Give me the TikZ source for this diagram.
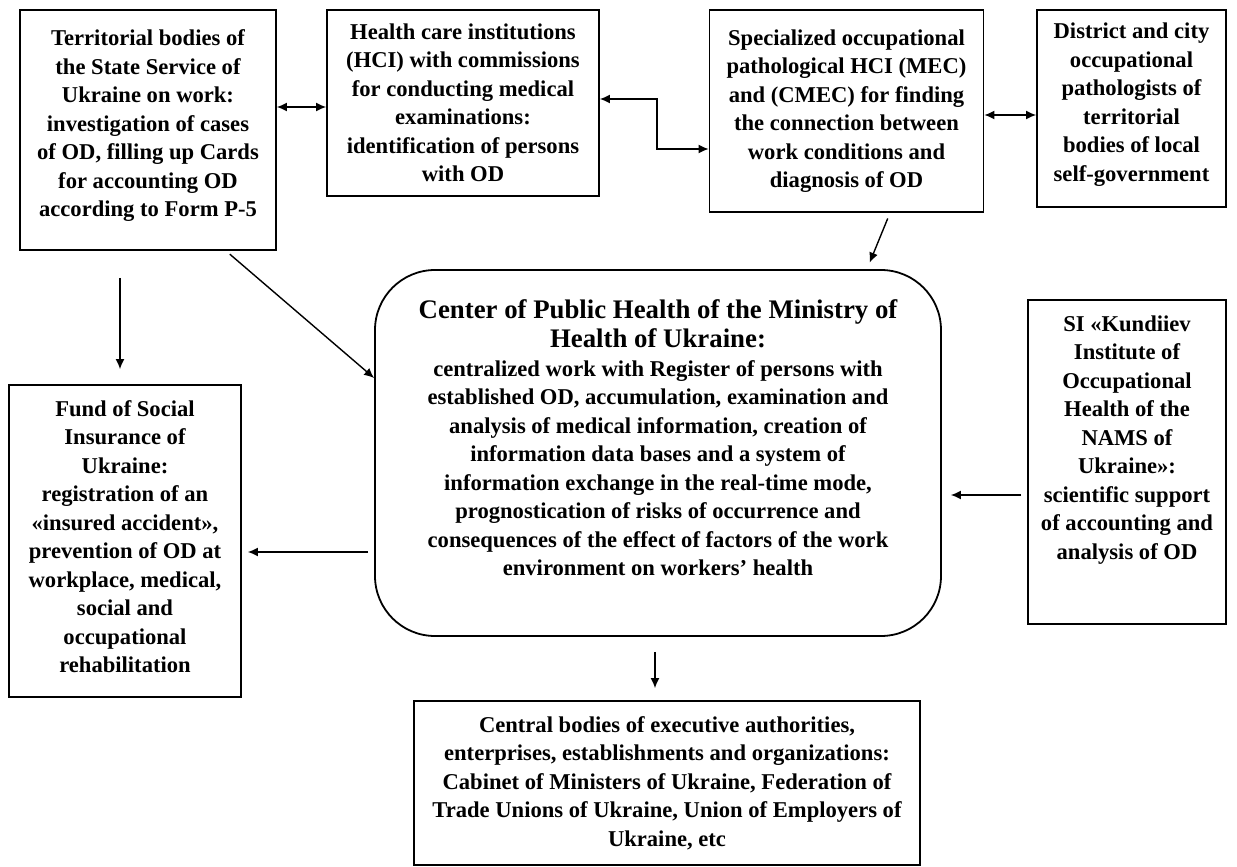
\documentclass[tikz,border=0pt]{standalone}
\usepackage{fontspec}
\setmainfont{Liberation Serif}
\usetikzlibrary{arrows.meta,calc,positioning}

\newcommand{\cphtitle}{\fontsize{13.4}{15.5}\selectfont}
\tikzset{
  box/.style={draw, line width=0.9pt, inner sep=0pt, align=center,
    font=\bfseries\fontsize{11.3}{14.25}\selectfont},
  arr/.style={-{Latex[length=5pt,width=4.5pt]}, line width=0.7pt},
  dblarr/.style={{Latex[length=5pt,width=4.5pt]}-{Latex[length=5pt,width=4.5pt]}, line width=0.7pt}
}

\begin{document}
\begin{tikzpicture}[x=0.5pt,y=-0.5pt]
  \useasboundingbox (0,0) rectangle (1237,867);
  % top row
  \node[box, minimum width=128pt, minimum height=120pt, text depth=6.5pt] (terr) at (148,130)
    {Territorial bodies of\\the State Service of\\Ukraine on work:\\investigation of cases\\of OD, filling up Cards\\for accounting OD\\according to Form P-5};
  \node[box, minimum width=136pt, minimum height=93pt] (hci) at (463,103)
    {Health care institutions\\(HCI) with commissions\\for conducting medical\\examinations:\\identification of persons\\with OD};
  \node[box, minimum width=137pt, minimum height=101pt] (spec) at (846.5,111)
    {Specialized occupational\\pathological HCI (MEC)\\and (CMEC) for finding\\the connection between\\work conditions and\\diagnosis of OD};
  \node[box, minimum width=94.5pt, minimum height=98.5pt, text depth=6.5pt] (distr) at (1131.5,108.5)
    {District and city\\occupational\\pathologists of\\territorial\\bodies of local\\self-government};
  % centre
  \node[box, rounded corners=30pt, minimum width=283pt, minimum height=183pt, text depth=15pt] (cph) at (658,453)
    {\cphtitle Center of Public Health of the Ministry of\\\cphtitle Health of Ukraine:\\[0.3pt]
     centralized work with Register of persons with\\established OD, accumulation, examination and\\analysis of medical information, creation of\\information data bases and a system of\\information exchange in the real-time mode,\\prognostication of risks of occurrence and\\consequences of the effect of factors of the work\\environment on workers’ health};
  % sides and bottom
  \node[box, minimum width=116pt, minimum height=156pt, text depth=4.5pt] (fund) at (125,541)
    {Fund of Social\\Insurance of\\Ukraine:\\registration of an\\«insured accident»,\\prevention of OD at\\workplace, medical,\\social and\\occupational\\rehabilitation};
  \node[box, minimum width=99pt, minimum height=162pt, text depth=24.5pt] (si) at (1127,462)
    {SI «Kundiiev\\Institute of\\Occupational\\Health of the\\NAMS of\\Ukraine»:\\scientific support\\of accounting and\\analysis of OD};
  \node[box, minimum width=253pt, minimum height=82pt] (cent) at (667,783)
    {Central bodies of executive authorities,\\enterprises, establishments and organizations:\\Cabinet of Ministers of Ukraine, Federation of\\Trade Unions of Ukraine, Union of Employers of\\Ukraine, etc};

  % links
  \draw[dblarr] (terr.east |- 0,107) -- (hci.west |- 0,107);
  \draw[dblarr] (hci.east |- 0,99) -- (657,99) -- (657,149) -- (spec.west |- 0,149);
  \draw[dblarr] (spec.east |- 0,115) -- (distr.west |- 0,115);
  \draw[arr, shorten <=3pt, shorten >=3.5pt] (spec.south -| 890,0) -- (cph.north -| 867,0);
  \draw[arr, shorten <=2.5pt] (terr.south -| 226,0) -- (cph.west |- 0,378);
  \draw[arr, shorten <=13.5pt, shorten >=7.5pt] (terr.south -| 120,0) -- (fund.north -| 120,0);
  \draw[arr, shorten <=3pt, shorten >=3pt] (cph.west |- 0,552) -- (fund.east |- 0,552);
  \draw[arr, shorten <=3pt, shorten >=4.5pt] (si.west |- 0,495) -- (cph.east |- 0,495);
  \draw[arr, shorten <=7.5pt, shorten >=6pt] (cph.south -| 655,0) -- (cent.north -| 655,0);
\end{tikzpicture}
\end{document}
